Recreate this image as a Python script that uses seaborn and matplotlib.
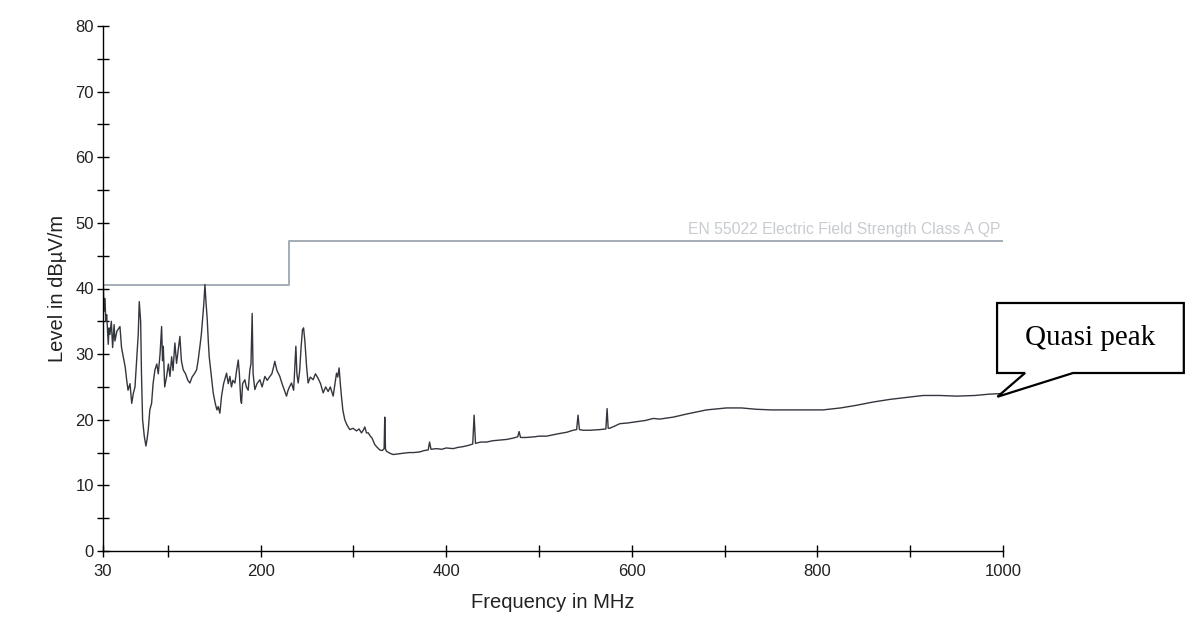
import numpy as np
import matplotlib
matplotlib.use("Agg")
import matplotlib.pyplot as plt
from matplotlib.patches import Polygon
from matplotlib.ticker import MultipleLocator, FixedLocator
import seaborn as sns
import pandas as pd

freq = [30.0, 31.0, 32.2, 33.0, 34.0, 35.7, 36.5, 37.5, 39.0, 40.4, 42.0, 42.9, 45.0, 48.3,
        50.0, 51.9, 54.0, 55.5, 57.0, 59.1, 61.0, 62.7, 64.5, 66.3, 68.0, 69.1, 70.6, 71.5,
        72.7, 74.5, 76.3, 77.5, 78.8, 80.5, 82.4, 84.0, 86.0, 88.0, 89.6, 91.5, 93.2, 94.2,
        95.0, 96.5, 98.6, 100.5, 102.2, 104.0, 105.5, 107.5, 109.3, 111.0, 112.9, 114.5,
        116.5, 119.0, 121.5, 123.7, 126.0, 128.5, 130.9, 132.5, 134.5, 136.0, 137.3, 138.6,
        139.9, 141.0, 142.4, 143.5, 144.5, 146.5, 148.8, 151.0, 152.8, 154.2, 156.0, 157.8,
        160.0, 163.2, 165.0, 166.8, 168.5, 170.0, 172.2, 174.0, 175.8, 177.0, 178.5, 179.3,
        180.5, 182.9, 184.5, 186.5, 188.3, 189.5, 190.8, 191.8, 193.7, 196.0, 199.1, 201.5,
        204.5, 207.0, 209.9, 212.0, 213.8, 215.2, 217.5, 220.6, 223.0, 225.5, 227.8, 229.5,
        231.0, 233.2, 235.5, 236.8, 237.9, 239.0, 240.4, 242.0, 243.5, 245.0, 246.2, 247.6,
        249.5, 251.1, 253.5, 256.5, 259.0, 261.9, 264.5, 267.3, 270.0, 272.7, 275.0, 278.1,
        280.0, 281.7, 283.0, 284.5, 285.8, 287.0, 288.5, 290.6, 293.0, 296.0, 299.5, 303.2,
        306.0, 308.6, 310.5, 312.2, 314.0, 316.0, 317.6, 320.0, 323.0, 325.5, 328.3, 331.0,
        333.0, 333.7, 334.5, 335.6, 339.1, 342.8, 348.0, 353.6, 360.0, 365.0, 371.5, 376.0,
        380.5, 382.0, 383.5, 389.5, 395.0, 400.0, 407.4, 413.0, 418.0, 424.0, 428.5, 430.0,
        431.5, 437.0, 443.3, 450.0, 457.7, 465.0, 472.0, 477.0, 478.5, 480.0, 486.4, 495.0,
        500.0, 508.0, 515.0, 522.0, 530.0, 536.6, 540.5, 542.0, 543.5, 547.4, 555.0, 565.4,
        572.0, 573.3, 574.5, 576.0, 581.0, 587.0, 595.0, 605.0, 615.0, 623.0, 630.0, 644.6,
        660.0, 680.5, 702.0, 718.0, 734.0, 750.0, 770.0, 788.0, 806.0, 825.0, 842.0, 860.0,
        878.0, 896.0, 914.0, 932.0, 950.0, 970.0, 985.0, 1000.0]
level = [43.0, 36.5, 38.5, 35.0, 36.0, 31.5, 34.0, 33.0, 35.0, 31.0, 34.5, 32.0, 33.5, 34.2,
         31.0, 29.6, 28.0, 26.1, 24.5, 25.5, 22.5, 24.0, 25.0, 29.0, 33.0, 38.0, 35.0, 27.0,
         20.0, 17.5, 16.0, 17.0, 18.5, 21.5, 22.5, 25.5, 27.6, 28.5, 27.0, 30.0, 34.2, 29.0,
         31.2, 25.0, 26.6, 28.5, 26.6, 29.6, 27.5, 31.7, 28.6, 30.5, 32.7, 29.0,
         27.6, 27.0, 26.0, 25.6, 26.5, 27.0, 27.6, 29.0, 31.2, 33.0, 35.2, 37.5,
         40.6, 38.0, 35.2, 32.0, 29.6, 27.0, 24.1, 22.5, 21.5, 22.0, 21.0, 23.6,
         25.5, 27.1, 25.5, 26.6, 25.0, 26.0, 25.6, 27.5, 29.1, 27.0, 23.0, 22.5,
         25.5, 26.1, 25.0, 24.5, 27.6, 28.5, 36.2, 27.0, 24.6, 25.5, 26.1, 25.0,
         26.6, 26.0, 26.6, 27.0, 28.0, 28.9, 27.5, 26.6, 25.5, 24.5, 23.6, 24.5,
         25.0, 25.6, 24.5, 28.0, 31.2, 27.0, 25.6, 27.5, 31.0, 33.7, 34.0, 32.0,
         28.0, 25.6, 26.5, 26.1, 27.0, 26.3, 25.5, 24.1, 25.0, 24.3, 25.0, 23.6,
         25.5, 27.1, 26.5, 27.9, 25.5, 23.6, 21.5, 20.0, 19.2, 18.5, 18.7, 18.3,
         18.6, 18.0, 18.4, 18.9, 18.0, 18.0, 17.6, 17.2, 16.2, 15.8, 15.4, 15.3,
         15.6, 20.4, 15.5, 15.2, 14.9, 14.7, 14.8, 14.9, 15.0, 15.0, 15.1, 15.3,
         15.4, 16.6, 15.5, 15.6, 15.5, 15.7, 15.6, 15.8, 15.9, 16.1, 16.3, 20.7,
         16.4, 16.6, 16.6, 16.8, 16.9, 17.0, 17.2, 17.4, 18.2, 17.3, 17.3, 17.4,
         17.5, 17.5, 17.7, 17.9, 18.1, 18.4, 18.5, 20.7, 18.5, 18.4, 18.4, 18.5,
         18.6, 21.7, 18.7, 18.7, 19.0, 19.4, 19.5, 19.7, 19.9, 20.2, 20.1, 20.4,
         20.9, 21.5, 21.8, 21.8, 21.6, 21.5, 21.5, 21.5, 21.5, 21.8, 22.2, 22.7,
         23.1, 23.4, 23.7, 23.7, 23.6, 23.7, 23.9, 24.0]

# Limit line (step at 230 MHz)
limit_freq = [30, 230, 1000]
limit_level = [40.6, 47.2, 47.2]
limit_name = "EN 55022 Electric Field Strength Class A QP"

x_ticks = [30, 200, 400, 600, 800, 1000]
x_minor = [100, 300, 500, 700, 900]

sns.set_style("ticks")
plt.rcParams['font.family'] = ['Liberation Sans', 'DejaVu Sans']

fig = plt.figure(figsize=(11.85, 6.25), dpi=100)
ax = fig.add_axes([0.0869, 0.1184, 0.7595, 0.84])

trace = pd.DataFrame({"freq": freq, "level": level})
limit = pd.DataFrame({"freq": limit_freq, "level": limit_level})

sns.lineplot(data=limit, x="freq", y="level", ax=ax, color="#a4acb6", lw=1.4,
             drawstyle="steps-post", estimator=None, sort=False)
sns.lineplot(data=trace, x="freq", y="level", ax=ax, color="#33363d", lw=1.0,
             estimator=None, sort=False)

ax.text(997, limit_level[-1] + 0.7, limit_name, ha="right", va="bottom",
        fontsize=11.3, color="#c8ccd0")

ax.set_xlim(30, 1000)
ax.set_ylim(0, 80)
ax.xaxis.set_major_locator(FixedLocator(x_ticks))
ax.xaxis.set_minor_locator(FixedLocator(x_minor))
ax.yaxis.set_major_locator(MultipleLocator(10))
ax.yaxis.set_minor_locator(MultipleLocator(5))
ax.tick_params(which="both", direction="inout", length=9, width=1, color="black",
               labelsize=12, labelcolor="#222222")
ax.tick_params(axis="x", pad=5)
ax.tick_params(axis="y", pad=2)

for s in ["top", "right"]:
    ax.spines[s].set_visible(False)
for s in ["left", "bottom"]:
    ax.spines[s].set_color("black")
    ax.spines[s].set_linewidth(1.0)

ax.set_xlabel("Frequency in MHz", fontsize=14.5, color="#222222", labelpad=10)
ax.set_ylabel("Level in dB\u00b5V/m", fontsize=14.5, color="#222222", labelpad=6)

# Callout box "Quasi peak" pointing at the end of the trace
tip = fig.transFigure.inverted().transform(ax.transData.transform((freq[-1] - 6, level[-1] - 0.5)))
x0, x1, yb, yt = 0.8414, 0.999, 0.4032, 0.5152
pts = [(x0, yt), (x1, yt), (x1, yb), (0.9055, yb), tuple(tip), (0.865, yb), (x0, yb)]
fig.add_artist(Polygon(pts, closed=True, transform=fig.transFigure, facecolor="white",
                       edgecolor="black", lw=1.6, zorder=5))
fig.text((x0 + x1) / 2, (yb + yt) / 2, "Quasi peak", ha="center", va="center",
         fontsize=21, family="Liberation Serif", color="black", zorder=6)

fig.savefig("out.png", dpi=100, facecolor="white")
